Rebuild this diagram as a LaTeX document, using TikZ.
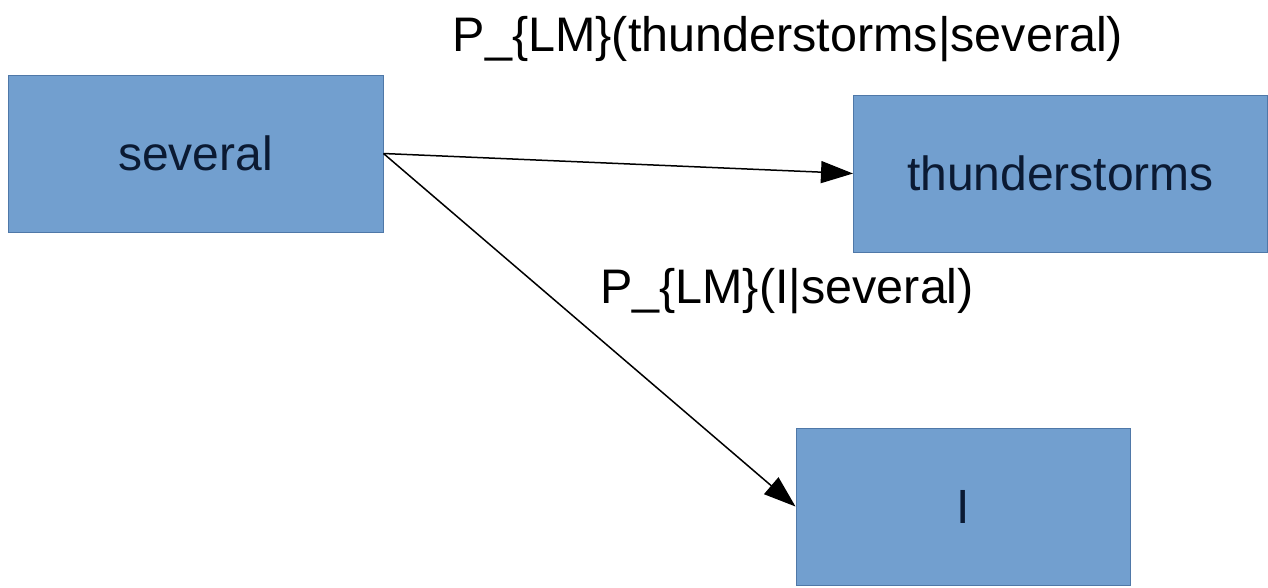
\documentclass[tikz,border=0pt]{standalone}
\usepackage{fontspec}
\setmainfont{Liberation Sans}
\usetikzlibrary{arrows.meta}
\definecolor{boxfill}{HTML}{729FCF}
\definecolor{boxedge}{HTML}{4F78A8}
\definecolor{boxtext}{HTML}{0B1A33}
\tikzset{
  wordbox/.style={draw=boxedge, line width=1pt, fill=boxfill, text=boxtext,
    minimum width=#1, minimum height=157pt, inner sep=0pt,
    font=\fontsize{48}{58}\selectfont},
  wordbox/.default=375pt,
  problabel/.style={inner sep=0pt, font=\fontsize{48.5}{58}\selectfont},
  link/.style={line width=1.5pt, -{Triangle[length=32pt,width=22pt]}}
}
\begin{document}
\begin{tikzpicture}[x=1pt,y=-1pt]
  \useasboundingbox (0,0) rectangle (1268,587);
  % word nodes
  \node[wordbox=375pt] (several) at (195.5,153.5) {several};
  \node[wordbox=414pt] (thunder) at (1060.5,173.5) {thunderstorms};
  \node[wordbox=334pt] (eye) at (963,506.5) {I};
  % transitions
  \draw[link] (several.east) -- (thunder.west);
  \draw[link] (several.east) -- (eye.west);
  % transition probabilities
  \node[problabel] (pthunder) at (788,39) {P\_\{LM\}(thunderstorms|several)};
  \node[problabel] (peye) at (787,291) {P\_\{LM\}(I|several)};
\end{tikzpicture}
\end{document}
